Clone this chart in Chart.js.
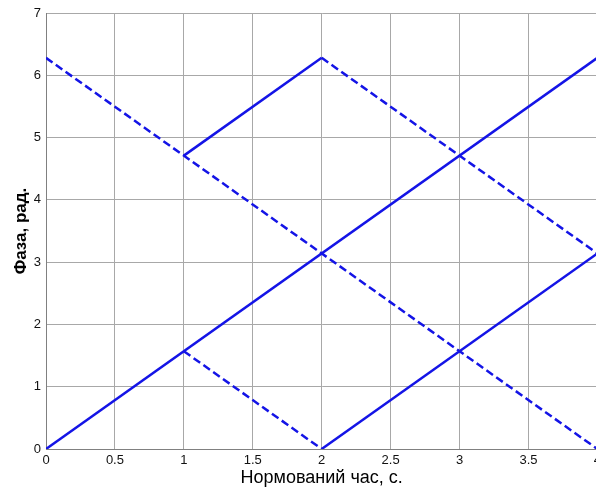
<!DOCTYPE html>
<html>
<head>
<meta charset="utf-8">
<script src="https://cdn.jsdelivr.net/npm/chart.js@4"></script>
<style>
  html, body { margin: 0; padding: 0; background: #fff; overflow: hidden; }
  #wrap { width: 605px; height: 487px; }
</style>
</head>
<body>
<div id="wrap"><canvas id="chart"></canvas></div>
<script>
// ── Data ──────────────────────────────────────────────────────
const xTicks = [0, 0.5, 1, 1.5, 2, 2.5, 3, 3.5, 4];
const yTicks = [0, 1, 2, 3, 4, 5, 6, 7];

// solid segments
const solidAX = [0, 4],  solidAY = [0, 6.28];
const solidBX = [1, 2],  solidBY = [4.71, 6.28];
const solidCX = [2, 4],  solidCY = [0, 3.14];
// dashed segments
const dashDX  = [0, 4],  dashDY  = [6.28, 0];
const dashEX  = [1, 2],  dashEY  = [1.57, 0];
const dashFX  = [2, 4],  dashFY  = [6.28, 3.14];

const BLUE = '#1414e6';
const FONT = 'Liberation Sans, Arial, sans-serif';

function seg(xs, ys, dashed) {
  return {
    data: xs.map((x, i) => ({ x, y: ys[i] })),
    borderColor: BLUE,
    borderWidth: 2.5,
    borderDash: dashed ? [8, 4] : [],
    pointRadius: 0,
    fill: false,
    tension: 0,
  };
}

new Chart(document.getElementById('chart'), {
  type: 'line',
  data: {
    datasets: [
      seg(solidAX, solidAY, false),
      seg(solidBX, solidBY, false),
      seg(solidCX, solidCY, false),
      seg(dashDX, dashDY, true),
      seg(dashEX, dashEY, true),
      seg(dashFX, dashFY, true),
    ],
  },
  options: {
    responsive: true,
    maintainAspectRatio: false,
    animation: false,
    layout: { padding: { top: 13, right: 0, left: 0, bottom: 0 } },
    plugins: { legend: { display: false }, tooltip: { enabled: false } },
    scales: {
      x: {
        type: 'linear',
        min: 0, max: 4,
        afterBuildTicks: s => { s.ticks = xTicks.map(v => ({ value: v })); },
        afterFit: s => { s.height = 38; },
        grid: { color: '#a8a8a8', lineWidth: 1, drawTicks: false },
        border: { color: '#808080' },
        ticks: { color: '#111', font: { family: FONT, size: 13 }, padding: 4, autoSkip: false, maxRotation: 0, callback: v => String(v) },
        title: {
          display: true,
          text: 'Нормований час, с.',
          color: '#000',
          font: { family: FONT, size: 18, lineHeight: 1 },
          padding: { top: 0, bottom: 0 },
        },
      },
      y: {
        type: 'linear',
        min: 0, max: 7,
        afterBuildTicks: s => { s.ticks = yTicks.map(v => ({ value: v })); },
        afterFit: s => { s.width = 46; },
        grid: { color: '#a8a8a8', lineWidth: 1, drawTicks: false },
        border: { color: '#808080' },
        ticks: { color: '#111', font: { family: FONT, size: 13 }, padding: 5, callback: v => String(v) },
        title: {
          display: true,
          text: 'Фаза, рад.',
          color: '#000',
          font: { family: FONT, size: 17, weight: 'bold' },
          padding: { top: 11, bottom: 0 },
        },
      },
    },
  },
});
</script>
</body>
</html>
